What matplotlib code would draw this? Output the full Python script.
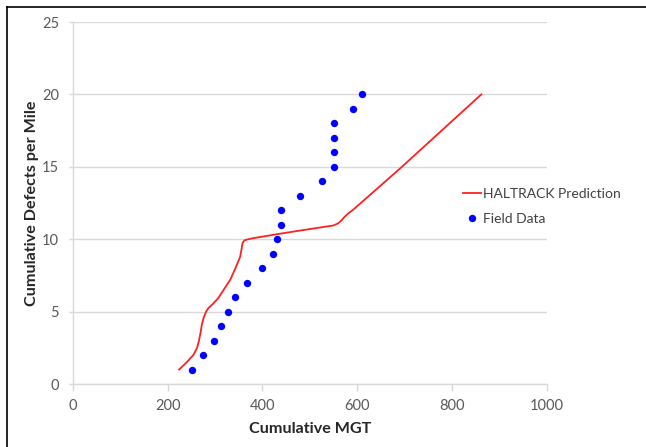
import matplotlib
matplotlib.use("Agg")
import matplotlib.pyplot as plt
from matplotlib.lines import Line2D

plt.rcParams['font.family'] = ['Lato', 'DejaVu Sans']

# HALTRACK prediction curve (MGT, defects per mile)
pred_mgt = [224, 240, 254, 262, 266, 269, 272, 276, 281, 286, 296, 307, 320, 332, 343, 353,
            356, 358, 362, 368, 380, 395, 437, 480, 550, 560, 567, 572, 580, 592, 691, 862]
pred_def = [1.0, 1.5, 2.0, 2.5, 3.0, 3.5, 4.1, 4.6, 5.0, 5.25, 5.55, 5.95, 6.6, 7.2, 8.0, 8.8,
            9.35, 9.75, 9.92, 9.98, 10.07, 10.15, 10.38, 10.6, 10.95, 11.1, 11.3, 11.5, 11.75,
            12.05, 14.9, 20.0]

# Field data
field_mgt = [252, 274, 297, 313, 327, 341, 368, 399, 422, 431, 440, 440, 480, 526,
             550, 550, 550, 550, 592, 610]
field_def = [1, 2, 3, 4, 5, 6, 7, 8, 9, 10, 11, 12, 13, 14, 15, 16, 17, 18, 19, 20]

x_ticks = [0, 200, 400, 600, 800, 1000]
y_ticks = [0, 5, 10, 15, 20, 25]

fig = plt.figure(figsize=(6.46, 4.47), dpi=100)
ax = fig.add_axes([73/646, 1-384/447, (546.7-73)/646, (384-22)/447])

ax.plot(pred_mgt, pred_def, color='#ff2020', lw=1.3, label='HALTRACK Prediction', zorder=3)
ax.plot(field_mgt, field_def, linestyle='none', marker='o', ms=5.3, color='#0000ff',
        markeredgewidth=0, label='Field Data', zorder=4)

ax.set_xlim(0, 1000)
ax.set_ylim(0, 25)
ax.set_xticks(x_ticks)
ax.set_yticks(y_ticks)
ax.grid(axis='y', color='#d9d9d9', lw=1.0)
ax.set_axisbelow(True)
for s in ['top', 'right']:
    ax.spines[s].set_visible(False)
ax.spines['bottom'].set_color('#d9d9d9')
ax.spines['left'].set_color('#d9d9d9')
ax.spines['bottom'].set_linewidth(1.0)
ax.spines['left'].set_linewidth(1.0)
ax.tick_params(axis='both', colors='#d9d9d9', labelcolor='#595959', labelsize=10.5,
               width=1.0, direction='out')
ax.tick_params(axis='x', pad=6, length=5)
ax.tick_params(axis='y', pad=7, length=3)

ax.set_xlabel('Cumulative MGT', fontsize=11.6, fontweight='bold', color='#262626', labelpad=6)
ax.set_ylabel('Cumulative Defects per Mile', fontsize=11.6, fontweight='bold', color='#262626',
              labelpad=2.5)

leg = fig.legend(loc='upper left', bbox_to_anchor=(462.7/646, 1-188/447), frameon=False,
                 fontsize=10, handlelength=1.3, handletextpad=0.15, labelspacing=0.95,
                 borderpad=0, borderaxespad=0)
for t in leg.get_texts():
    t.set_color('#404040')

# outer border (top and left)
fig.add_artist(Line2D([7/646, 1], [1-6.5/447, 1-6.5/447], transform=fig.transFigure,
                      color='black', lw=1.2))
fig.add_artist(Line2D([7/646, 7/646], [0, 1-6.5/447], transform=fig.transFigure,
                      color='black', lw=1.2))

fig.savefig('out.png', dpi=100)
